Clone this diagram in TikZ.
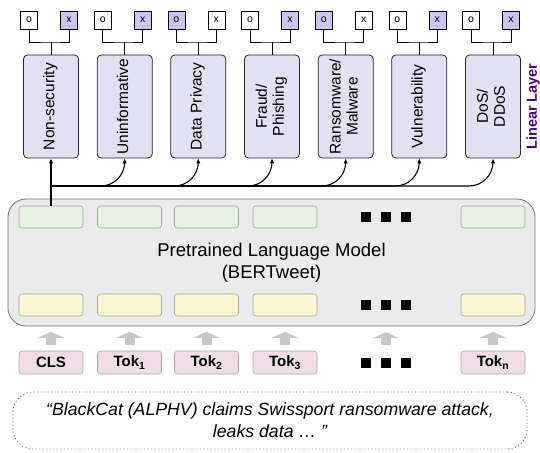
\documentclass[tikz,border=0pt]{standalone}
\usepackage{fontspec}
\setmainfont{Liberation Sans}
\usetikzlibrary{arrows.meta}

\definecolor{headfill}{HTML}{E2E0F3}
\definecolor{pickfill}{HTML}{C9C6F7}
\definecolor{plmfill}{HTML}{EBEBEB}
\definecolor{outfill}{HTML}{E7F2E2}
\definecolor{infill}{HTML}{FBF5D1}
\definecolor{tokfill}{HTML}{F1DDE6}
\definecolor{layerpurple}{HTML}{4B0082}

\newcommand{\sidetext}[1]{\rotatebox{90}{\begin{tabular}{@{}c@{}}#1\end{tabular}}}
\newcommand{\dotrow}{\rule{10pt}{10pt}\hspace{10pt}\rule{10pt}{10pt}\hspace{10pt}\rule{10pt}{10pt}}

\tikzset{
  headbox/.style={draw=black!85, fill=headfill, rounded corners=4pt, line width=0.8pt,
    minimum width=55pt, minimum height=103pt, inner sep=0pt,
    font=\fontsize{15.5}{17}\selectfont},
  bit/.style={draw=black, fill=white, line width=0.6pt, minimum width=17pt,
    minimum height=18pt, inner sep=0pt, font=\fontsize{10.5}{12}\selectfont},
  picked/.style={bit, fill=pickfill},
  plmbox/.style={draw=black!55, fill=plmfill, rounded corners=18pt, line width=0.8pt,
    minimum width=527pt, minimum height=127pt, align=center,
    font=\fontsize{18.5}{22}\selectfont},
  cell/.style={draw=black!35, rounded corners=3pt, line width=0.6pt,
    minimum width=64pt, minimum height=22pt, inner sep=0pt},
  outcell/.style={cell, fill=outfill},
  incell/.style={cell, fill=infill},
  tokcell/.style={cell, fill=tokfill, minimum height=23pt, font=\bfseries\fontsize{15}{17}\selectfont},
  dotcell/.style={inner sep=0pt, minimum width=64pt, minimum height=23pt},
  feed/.style={draw=black!22, line width=10pt, shorten <=6pt, shorten >=15.5pt,
    -{Triangle[length=6pt,width=26pt]}},
  uparrow/.style={draw=black, line width=1.1pt, -{Latex[length=5pt,width=4.5pt]}},
  bracket/.style={draw=black, line width=0.9pt},
}

\begin{document}
\begin{tikzpicture}[x=1pt,y=-1pt]
\useasboundingbox (0,0) rectangle (540,452);

% classification heads
\node[headbox] (c1) at (51,106.5) {\sidetext{Non-security}};
\node[headbox] (c2) at (124.7,106.5) {\sidetext{Uninformative}};
\node[headbox] (c3) at (198.3,106.5) {\sidetext{Data Privacy}};
\node[headbox] (c4) at (272,106.5) {\sidetext{Fraud/\\Phishing}};
\node[headbox] (c5) at (345.7,106.5) {\sidetext{Ransomware/\\Malware}};
\node[headbox] (c6) at (419.3,106.5) {\sidetext{Vulnerability}};
\node[headbox] (c7) at (493,106.5) {\sidetext{DoS/\\DDoS}};
\node[text=layerpurple, font=\bfseries\fontsize{14.5}{16}\selectfont] (ll) at (533,106.5) {\rotatebox{90}{Linear Layer}};

% binary outputs
\node[bit] (o1) at (29,20) {o};
\node[picked] (x1) at (69,20) {x};
\node[bit] (o2) at (102.7,20) {o};
\node[picked] (x2) at (142.7,20) {x};
\node[picked] (o3) at (176.3,20) {o};
\node[bit] (x3) at (216.3,20) {x};
\node[bit] (o4) at (250,20) {o};
\node[picked] (x4) at (290,20) {x};
\node[picked] (o5) at (323.7,20) {o};
\node[bit] (x5) at (363.7,20) {x};
\node[bit] (o6) at (397.3,20) {o};
\node[picked] (x6) at (437.3,20) {x};
\node[bit] (o7) at (471,20) {o};
\node[picked] (x7) at (511,20) {x};

\coordinate (j1) at (51,42);
\coordinate (j2) at (124.7,42);
\coordinate (j3) at (198.3,42);
\coordinate (j4) at (272,42);
\coordinate (j5) at (345.7,42);
\coordinate (j6) at (419.3,42);
\coordinate (j7) at (493,42);
\begin{scope}[bracket]
  \draw (o1.south) |- (j1) -| (x1.south);  \draw (j1) -- (c1.north);
  \draw (o2.south) |- (j2) -| (x2.south);  \draw (j2) -- (c2.north);
  \draw (o3.south) |- (j3) -| (x3.south);  \draw (j3) -- (c3.north);
  \draw (o4.south) |- (j4) -| (x4.south);  \draw (j4) -- (c4.north);
  \draw (o5.south) |- (j5) -| (x5.south);  \draw (j5) -- (c5.north);
  \draw (o6.south) |- (j6) -| (x6.south);  \draw (j6) -- (c6.north);
  \draw (o7.south) |- (j7) -| (x7.south);  \draw (j7) -- (c7.north);
\end{scope}

% language model
\node[plmbox] (plm) at (271.5,262.5) {Pretrained Language Model\\(BERTweet)};
\node[outcell] (g1) at (51,217) {};
\node[outcell] (g2) at (129.5,217) {};
\node[outcell] (g3) at (206.5,217) {};
\node[outcell] (g4) at (285,217) {};
\node[dotcell] (gdots) at (386,217) {\dotrow};
\node[outcell] (gn) at (493,217) {};
\node[incell] (y1) at (51,305) {};
\node[incell] (y2) at (129.5,305) {};
\node[incell] (y3) at (206.5,305) {};
\node[incell] (y4) at (285,305) {};
\node[dotcell] (ydots) at (386,305) {\dotrow};
\node[incell] (yn) at (493,305) {};

% CLS output feeds every head
\coordinate (hub) at (51,186);
\draw[uparrow] (g1.north) -- (c1.south);
\begin{scope}[rounded corners=24pt]
  \draw[uparrow] (hub) -| (c2.south);
  \draw[uparrow] (hub) -| (c3.south);
  \draw[uparrow] (hub) -| (c4.south);
  \draw[uparrow] (hub) -| (c5.south);
  \draw[uparrow] (hub) -| (c6.south);
  \draw[uparrow] (hub) -| (c7.south);
\end{scope}

% input tokens
\node[tokcell] (t0) at (51,362.5) {CLS};
\node[tokcell] (t1) at (129.5,362.5) {Tok\textsubscript{1}};
\node[tokcell] (t2) at (206.5,362.5) {Tok\textsubscript{2}};
\node[tokcell] (t3) at (285,362.5) {Tok\textsubscript{3}};
\node[dotcell] (tdots) at (386,362.5) {\dotrow};
\node[tokcell] (tn) at (493,362.5) {Tok\textsubscript{n}};

\draw[feed] (t0) -- (y1);
\draw[feed] (t1) -- (y2);
\draw[feed] (t2) -- (y3);
\draw[feed] (t3) -- (y4);
\draw[feed] (tdots) -- (ydots);
\draw[feed] (tn) -- (yn);

% input tweet
\node[draw=black!65, line width=0.9pt, dash pattern=on 0.9pt off 2.6pt, rounded corners=20pt,
  minimum width=514pt, minimum height=57pt, align=center,
  font=\itshape\fontsize{17.7}{22}\selectfont] (tweet) at (270,420.5)
  {“BlackCat (ALPHV) claims Swissport ransomware attack,\\leaks data … ”};
\end{tikzpicture}
\end{document}
